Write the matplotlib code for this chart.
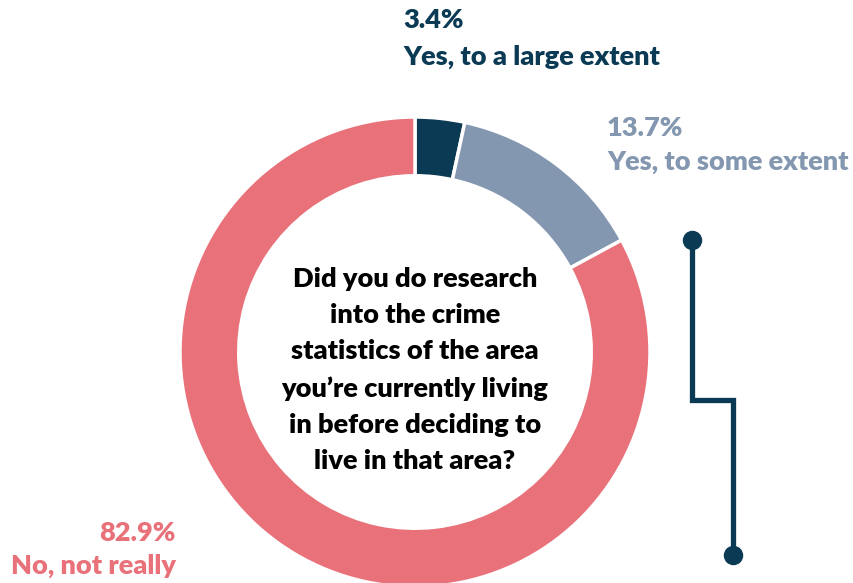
import matplotlib
matplotlib.use("Agg")
import matplotlib.pyplot as plt

# survey answers
labels = ["Yes, to a large extent", "Yes, to some extent", "No, not really"]
values = [3.4, 13.7, 82.9]
colors = ["#0b3a55", "#8497b0", "#e8717a"]
question = ("Did you do research\ninto the crime\nstatistics of the area\n"
            "you\u2019re currently living\nin before deciding to\nlive in that area?")

W, H = 854, 583
plt.rcParams["font.family"] = ["Lato", "DejaVu Sans"]
FS = 19.5

fig = plt.figure(figsize=(W / 100, H / 100), dpi=100)
ax = fig.add_axes([0, 0, 1, 1])

cx, cy, r = 415, H - 352, 235
ax.pie(values, colors=colors, startangle=90, counterclock=False,
       center=(cx, cy), radius=r, frame=True,
       wedgeprops=dict(width=r * 0.25, edgecolor="white", linewidth=2.5))
ax.set_xlim(0, W)
ax.set_ylim(0, H)
ax.set_aspect("equal")
ax.axis("off")

ax.text(cx, H - 370, question, ha="center", va="center", fontsize=FS,
        fontweight="heavy", color="black", linespacing=1.6)

# outside labels
ax.text(403, H - 20, f"{values[0]}%", ha="left", va="center", fontsize=FS,
        fontweight="heavy", color=colors[0])
ax.text(403, H - 57, labels[0], ha="left", va="center", fontsize=FS,
        fontweight="heavy", color=colors[0])
ax.text(607, H - 128, f"{values[1]}%", ha="left", va="center", fontsize=FS,
        fontweight="heavy", color=colors[1])
ax.text(607, H - 162, labels[1], ha="left", va="center", fontsize=FS,
        fontweight="heavy", color=colors[1])
ax.text(176, H - 533, f"{values[2]}%", ha="right", va="center", fontsize=FS,
        fontweight="heavy", color=colors[2])
ax.text(176, H - 566, labels[2], ha="right", va="center", fontsize=FS,
        fontweight="heavy", color=colors[2])

# decorative connector
lx = [692, 692, 733, 733]
ly = [H - 240, H - 400, H - 400, H - 555]
ax.plot(lx, ly, color=colors[0], lw=3.8, solid_joinstyle="miter")
ax.plot([lx[0], lx[-1]], [ly[0], ly[-1]], "o", color=colors[0], ms=13)

fig.savefig("out.png", dpi=100)
